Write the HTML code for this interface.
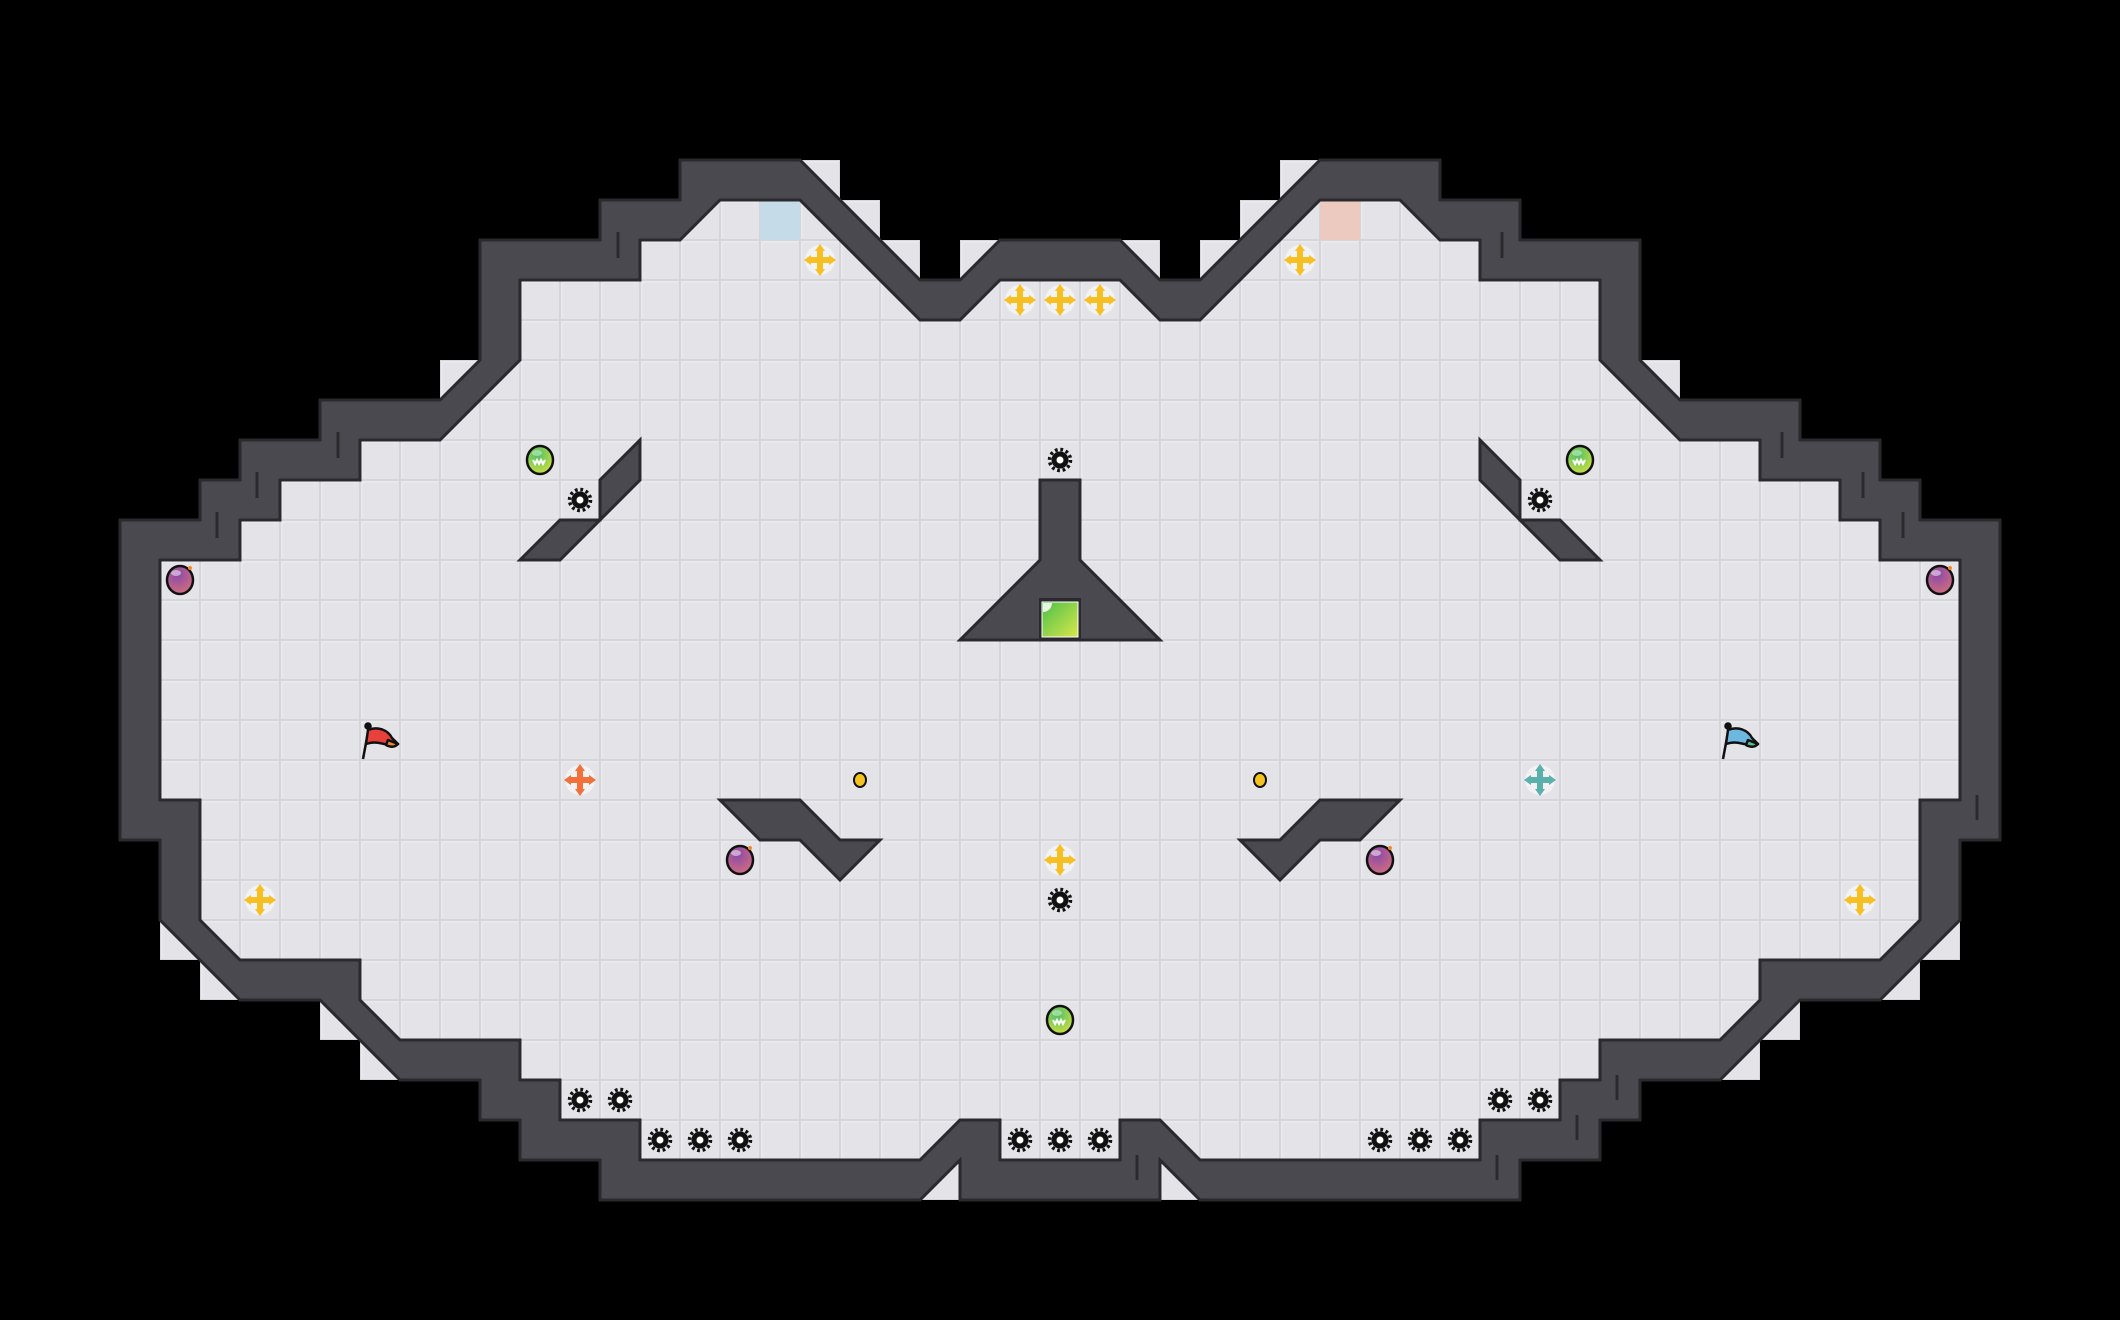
<!DOCTYPE html>
<html><head><meta charset="utf-8"><style>
html,body{margin:0;padding:0;background:#000;width:2120px;height:1320px;overflow:hidden}
svg{display:block}
</style></head><body>
<svg width="2120" height="1320" viewBox="0 0 2120 1320" xmlns="http://www.w3.org/2000/svg">
<defs>
<pattern id="tile" patternUnits="userSpaceOnUse" width="1" height="1">
<rect width="1" height="1" fill="#d6d6da"/>
<rect x="0.03" y="0.03" width="0.94" height="0.94" fill="#f0f0f3"/>
<rect x="0.06" y="0.06" width="0.91" height="0.91" fill="#e4e4e8"/>
</pattern>
<radialGradient id="gballg" cx="0.4" cy="0.3" r="0.8"><stop offset="0" stop-color="#4cbf6a"/><stop offset="1" stop-color="#d9e23a"/></radialGradient>
<radialGradient id="bombg" cx="0.4" cy="0.3" r="0.8"><stop offset="0" stop-color="#8a4aa8"/><stop offset="1" stop-color="#d8707a"/></radialGradient>
<linearGradient id="exitg" x1="0" y1="0" x2="1" y2="1"><stop offset="0" stop-color="#4cbf4a"/><stop offset="1" stop-color="#d8e84a"/></linearGradient>
<g id="gear">
<circle r="8.5" fill="#111"/>
<circle r="10.5" fill="none" stroke="#111" stroke-width="3.5" stroke-dasharray="2.75 2.75"/>
<circle r="3.5" fill="#fff"/>
</g>
<g id="cross">
<circle r="15" fill="#f3f3f5" opacity="0.9"/>
<path d="M-3,-10 H3 V-3 H10 V3 H3 V10 H-3 V3 H-10 V-3 H-3Z" fill="currentColor"/>
<path d="M0,-16 L-5,-9 H5Z M0,16 L-5,9 H5Z M-16,0 L-9,-5 V5Z M16,0 L9,-5 V5Z" fill="currentColor"/>
</g>
<g id="ball">
<ellipse rx="13" ry="14" fill="url(#gballg)" stroke="#111" stroke-width="2.5"/>
<ellipse cx="-3" cy="-7" rx="5" ry="3" fill="#fff" opacity="0.4"/>
<path d="M-7,0 l2,4 l2,-4 l2,4 l2,-4 l2,4 l2,-4" fill="none" stroke="#fff" stroke-width="2"/>
</g>
<g id="bombicon">
<ellipse rx="13" ry="14" fill="url(#bombg)" stroke="#111" stroke-width="2.5"/>
<ellipse cx="-4" cy="-7" rx="5" ry="3" fill="#fff" opacity="0.5"/>
<circle cx="10" cy="-12" r="2" fill="#f08a2a"/>
</g>
</defs>

<rect width="2120" height="1320" fill="#000"/>

<g transform="scale(40)">
<path fill="url(#tile)" d="M25,6 L24,7 L23,7 L20,4 L17,4 L17,5 L15,5 L15,6 L12,6 L12,9 L11,10 L8,10 L8,11 L6,11 L6,12 L5,12 L5,13 L3,13 L3,21 L4,21 L4,23 L6,25 L8,25 L10,27 L12,27 L12,28 L13,28 L13,29 L15,29 L15,30 L23,30 L24,29 L24,30 L29,30 L29,29 L30,30 L38,30 L38,29 L40,29 L40,28 L41,28 L41,27 L43,27 L45,25 L47,25 L49,23 L49,21 L50,21 L50,13 L48,13 L48,12 L47,12 L47,11 L45,11 L45,10 L42,10 L41,9 L41,6 L38,6 L38,5 L36,5 L36,4 L33,4 L30,7 L29,7 L28,6 Z"/>
<g fill="url(#tile)">
<rect x="20" y="4" width="1" height="1"/><rect x="21" y="5" width="1" height="1"/><rect x="22" y="6" width="1" height="1"/><rect x="24" y="6" width="1" height="1"/>
<rect x="11" y="9" width="1" height="1"/><rect x="4" y="23" width="1" height="1"/><rect x="5" y="24" width="1" height="1"/>
<rect x="8" y="25" width="1" height="1"/><rect x="9" y="26" width="1" height="1"/><rect x="23" y="29" width="1" height="1"/>
<rect x="32" y="4" width="1" height="1"/><rect x="31" y="5" width="1" height="1"/><rect x="30" y="6" width="1" height="1"/><rect x="28" y="6" width="1" height="1"/>
<rect x="41" y="9" width="1" height="1"/><rect x="48" y="23" width="1" height="1"/><rect x="47" y="24" width="1" height="1"/>
<rect x="44" y="25" width="1" height="1"/><rect x="43" y="26" width="1" height="1"/><rect x="29" y="29" width="1" height="1"/>
</g>
<rect x="19" y="5" width="1" height="1" fill="#c6dbe8"/>
<rect x="33" y="5" width="1" height="1" fill="#eccabf"/>

<path fill="#4a4950" fill-rule="evenodd" stroke="#2a2a2e" stroke-width="3" vector-effect="non-scaling-stroke" stroke-linejoin="miter" d="
M25,6 L24,7 L23,7 L20,4 L17,4 L17,5 L15,5 L15,6 L12,6 L12,9 L11,10 L8,10 L8,11 L6,11 L6,12 L5,12 L5,13 L3,13 L3,21 L4,21 L4,23 L6,25 L8,25 L10,27 L12,27 L12,28 L13,28 L13,29 L15,29 L15,30 L23,30 L24,29 L24,30 L29,30 L29,29 L30,30 L38,30 L38,29 L40,29 L40,28 L41,28 L41,27 L43,27 L45,25 L47,25 L49,23 L49,21 L50,21 L50,13 L48,13 L48,12 L47,12 L47,11 L45,11 L45,10 L42,10 L41,9 L41,6 L38,6 L38,5 L36,5 L36,4 L33,4 L30,7 L29,7 L28,6 Z
M25,7 L24,8 L23,8 L20,5 L18,5 L17,6 L16,6 L16,7 L13,7 L13,9 L11,11 L9,11 L9,12 L7,12 L7,13 L6,13 L6,14 L4,14 L4,20 L5,20 L5,23 L6,24 L9,24 L9,25 L10,26 L13,26 L13,27 L14,27 L14,28 L16,28 L16,29 L23,29 L24,28 L25,28 L25,29 L28,29 L28,28 L29,28 L30,29 L37,29 L37,28 L39,28 L39,27 L40,27 L40,26 L43,26 L44,25 L44,24 L47,24 L48,23 L48,20 L49,20 L49,14 L47,14 L47,13 L46,13 L46,12 L44,12 L44,11 L42,11 L40,9 L40,7 L37,7 L37,6 L36,6 L35,5 L33,5 L30,8 L29,8 L28,7 Z"/>

<g fill="#4a4950" stroke="#2a2a2e" stroke-width="3">
<path vector-effect="non-scaling-stroke" d="M26,12 L27,12 L27,14 L29,16 L24,16 L26,14 Z"/>
<path vector-effect="non-scaling-stroke" d="M16,11 L16,12 L14,14 L13,14 L14,13 L15,13 L15,12 Z"/>
<path vector-effect="non-scaling-stroke" d="M37,11 L37,12 L39,14 L40,14 L39,13 L38,13 L38,12 Z"/>
<path vector-effect="non-scaling-stroke" d="M18,20 L20,20 L21,21 L22,21 L21,22 L20,21 L19,21 Z"/>
<path vector-effect="non-scaling-stroke" d="M35,20 L33,20 L32,21 L31,21 L32,22 L33,21 L34,21 Z"/>
</g>
</g>

<g stroke="#2a2a2e" stroke-width="3">
<line x1="618" y1="232" x2="618" y2="258"/><line x1="338" y1="432" x2="338" y2="458"/><line x1="257" y1="472" x2="257" y2="498"/><line x1="217" y1="512" x2="217" y2="538"/>
<line x1="1502" y1="232" x2="1502" y2="258"/><line x1="1782" y1="432" x2="1782" y2="458"/><line x1="1863" y1="472" x2="1863" y2="498"/><line x1="1903" y1="512" x2="1903" y2="538"/>
<line x1="1977" y1="795" x2="1977" y2="820"/><line x1="1617" y1="1075" x2="1617" y2="1100"/><line x1="1577" y1="1115" x2="1577" y2="1140"/><line x1="1497" y1="1155" x2="1497" y2="1180"/><line x1="1137" y1="1155" x2="1137" y2="1180"/>
</g>

<rect x="1039" y="598" width="42" height="42" fill="#2a2a2e"/>
<rect x="1042" y="602" width="36" height="35" fill="url(#exitg)" stroke="#fff" stroke-width="1"/>
<path d="M1043,603 h9 a9,9 0 0 1 -9,9 z" fill="#fff" opacity="0.85"/>

<g color="#f6c024">
<use href="#cross" x="820" y="260"/><use href="#cross" x="1020" y="300"/><use href="#cross" x="1060" y="300"/><use href="#cross" x="1100" y="300"/>
<use href="#cross" x="1300" y="260"/><use href="#cross" x="260" y="900"/><use href="#cross" x="1860" y="900"/><use href="#cross" x="1060" y="860"/>
</g>
<use href="#cross" x="580" y="780" color="#f2703a"/>
<use href="#cross" x="1540" y="780" color="#5ab0aa"/>

<g>
<use href="#gear" x="1060" y="460"/><use href="#gear" x="580" y="500"/><use href="#gear" x="1540" y="500"/><use href="#gear" x="1060" y="900"/>
<use href="#gear" x="580" y="1100"/><use href="#gear" x="620" y="1100"/>
<use href="#gear" x="660" y="1140"/><use href="#gear" x="700" y="1140"/><use href="#gear" x="740" y="1140"/>
<use href="#gear" x="1020" y="1140"/><use href="#gear" x="1060" y="1140"/><use href="#gear" x="1100" y="1140"/>
<use href="#gear" x="1380" y="1140"/><use href="#gear" x="1420" y="1140"/><use href="#gear" x="1460" y="1140"/>
<use href="#gear" x="1500" y="1100"/><use href="#gear" x="1540" y="1100"/>
</g>

<use href="#ball" x="540" y="460"/><use href="#ball" x="1580" y="460"/><use href="#ball" x="1060" y="1020"/>
<use href="#bombicon" x="180" y="580"/><use href="#bombicon" x="1940" y="580"/><use href="#bombicon" x="740" y="860"/><use href="#bombicon" x="1380" y="860"/>
<ellipse cx="860" cy="780" rx="6" ry="7" fill="#f5c21e" stroke="#111" stroke-width="2"/>
<ellipse cx="1260" cy="780" rx="6" ry="7" fill="#f5c21e" stroke="#111" stroke-width="2"/>

<g stroke="#111" stroke-width="2.5" stroke-linejoin="round">
<line x1="363" y1="759" x2="369" y2="727"/>
<path d="M368,730 C378,726 388,730 392,738 L398,744 C392,748 388,744 384,744 C376,742 372,742 366,744 Z" fill="#e8403a"/>
<path d="M388,740 L398,744 C394,748 390,747 386,745 Z" fill="#f08a30"/>
<circle cx="368" cy="726" r="2.5" fill="#111"/>
<line x1="1723" y1="759" x2="1729" y2="727"/>
<path d="M1728,730 C1738,726 1748,730 1752,738 L1758,744 C1752,748 1748,744 1744,744 C1736,742 1732,742 1726,744 Z" fill="#6cb8e0"/>
<path d="M1748,740 L1758,744 C1754,748 1750,747 1746,745 Z" fill="#5ac088"/>
<circle cx="1728" cy="726" r="2.5" fill="#111"/>
</g>
</svg>
</body></html>
